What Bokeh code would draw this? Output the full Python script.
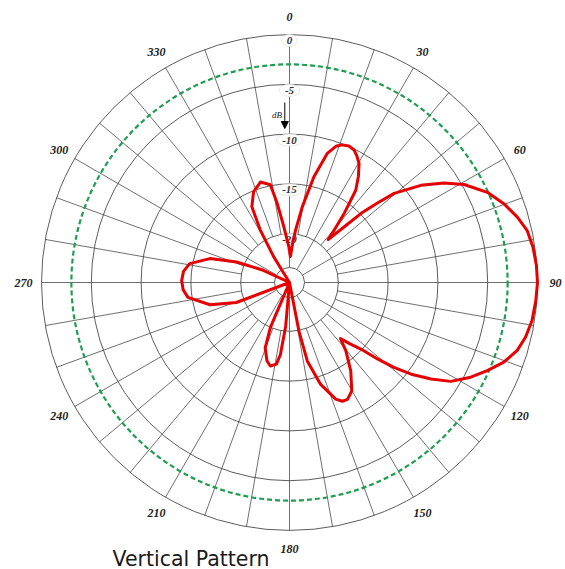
import numpy as np
from bokeh.plotting import figure
from bokeh.models import Arrow, NormalHead
from bokeh.embed import file_html
from bokeh.resources import INLINE
from bokeh.core.properties import value

# ---------------- data ----------------
ring_db = [0, -5, -10, -15, -20]
ring_labels = ["0", "-5", "-10", "-15", "-20"]
ref_db = -3
angle_ticks = [0, 30, 60, 90, 120, 150, 180, 210, 240, 270, 300, 330]
angle_labels = ["0", "30", "60", "90", "120", "150", "180", "210", "240", "270", "300", "330"]
spoke_angles = list(range(0, 360, 10))
hub_spoke_angles = list(range(0, 360, 30))

pattern_angle = [0, 2, 4.5, 6.6, 9.6, 13, 16.3, 19, 21, 23.5, 26, 28, 30.3, 33, 35.7,
                 38.3, 40.5, 42, 44.5, 46, 47.9, 49.6, 53.5, 57.2, 60.7, 65.5, 69.8,
                 74, 77.7, 81.7, 86, 90, 94.2, 98.9, 103, 106.6, 110.4, 114, 117.6,
                 121.5, 124.3, 127, 129.1, 131, 133, 135.5, 137.7, 140.5, 145.3,
                 150.1, 153.6, 156, 158.4, 163, 167.2, 169, 176, 185, 187.2, 189.1,
                 192.9, 196, 200.4, 203, 226, 249.4, 254.4, 261.7, 266, 271, 276,
                 280.7, 286.7, 291.2, 295, 312, 328.5, 330.9, 333.6, 338.4, 343.9,
                 348.9, 351.1, 354.1, 358.9, 360]
pattern_db = [-21.8, -22.3, -21.0, -19.6, -17.2, -14.0, -11.4, -10.4, -10.1, -9.95,
              -10.1, -10.5, -11.06, -12.2, -13.5, -16.0, -18.0, -19.1, -17.05, -14.9,
              -13.0, -11.1, -8.5, -6.45, -4.8, -3.07, -1.97, -1.1, -0.47, -0.2, -0.05,
              0.0, -0.1, -0.25, -0.57, -1.04, -1.94, -3.16, -4.37, -5.9, -7.7, -9.6,
              -11.4, -13.2, -15.1, -16.3, -17.3, -16.0, -14.1, -12.35, -11.8, -11.85,
              -12.3, -14.2, -16.8, -19.9, -30, -20.5, -17.6, -16.6, -16.3, -16.7,
              -17.9, -20.0, -30, -19.2, -16.6, -14.6, -14.2, -14.07, -14.2, -14.7,
              -16.55, -19.2, -22.0, -30, -21.8, -18.85, -16.4, -15.1, -14.4, -14.9,
              -16.8, -19.2, -21.3, -21.8]

title_text = "Vertical Pattern"

# ---------------- geometry / style ----------------
R0 = 248.0          # px radius of the 0 dB ring
DB_MIN = -24.9      # dB value at the centre
HUB_R = 15.0
LABEL_R = 266.0


def rad(db):
    return R0 * np.clip((np.asarray(db, dtype=float) - DB_MIN) / (-DB_MIN), 0, None)


def pol(theta_deg, r):
    th = np.radians(np.asarray(theta_deg, dtype=float))
    return r * np.sin(th), r * np.cos(th)


p = figure(width=565, height=569, x_range=(-289, 276), y_range=(-287, 282),
           output_backend="svg", toolbar_location=None, min_border=0,
           x_axis_location=None, y_axis_location=None)
p.grid.visible = False
p.outline_line_color = None
p.background_fill_color = "white"

grid_col = "#4a4a4a"

# spokes
r_in = float(rad(-20))
xs, ys = [], []
for a in spoke_angles:
    start = HUB_R if a in hub_spoke_angles else r_in
    x0, y0 = pol(a, start)
    x1, y1 = pol(a, R0)
    xs.append([x0, x1])
    ys.append([y0, y1])
p.multi_line(xs, ys, line_color=grid_col, line_width=0.8)

# rings
rr = rad(ring_db)
p.circle(x=[0] * len(rr), y=[0] * len(rr), radius=list(rr), fill_color=None,
         line_color=grid_col, line_width=0.9)
p.circle(x=[0], y=[0], radius=[HUB_R], fill_color="white", line_color=grid_col, line_width=0.9)

# -3 dB reference ring
p.circle(x=[0], y=[0], radius=[float(rad(ref_db))], fill_color=None,
         line_color="#1f9e50", line_width=2.2, line_dash="5 3")

# dB labels along 0 deg spoke
lab_y = list(rr - 6)
p.ellipse(x=[0] * len(rr), y=lab_y, width=[10 + 5.5 * len(s) for s in ring_labels],
          height=[12] * len(rr), fill_color="white", line_color="#e2e2e2", line_width=0.8)
p.text(x=[0] * len(rr), y=lab_y, text=ring_labels, text_font=value("Liberation Serif"),
       text_font_style="bold italic", text_font_size="11px", text_color="#333333",
       text_align="center", text_baseline="middle")

# dB arrow
p.add_layout(Arrow(x_start=-4.7, y_start=180, x_end=-4.7, y_end=154, line_width=1,
                   line_color="black",
                   end=NormalHead(size=7, fill_color="black", line_color="black")))
p.text(x=[-12.5], y=[168], text=["dB"], text_font=value("Liberation Serif"),
       text_font_style="italic", text_font_size="9px", text_color="#222222",
       text_align="center", text_baseline="middle")

# angle labels
lx, ly = pol(angle_ticks, LABEL_R)
p.text(x=list(lx), y=list(ly), text=angle_labels, text_font=value("Liberation Serif"),
       text_font_style="bold italic", text_font_size="12px", text_color="#222222",
       text_align="center", text_baseline="middle")

# pattern
px, py = pol(pattern_angle, rad(pattern_db))
p.line(list(px), list(py), line_color="#e60000", line_width=3, line_join="round")

# title
p.text(x=[-177], y=[-276], text=[title_text], text_font=value("DejaVu Sans"),
       text_font_size="20.5px", text_color="#1a1a1a", text_align="left",
       text_baseline="alphabetic")

open("out.html", "w").write(file_html(p, INLINE))
